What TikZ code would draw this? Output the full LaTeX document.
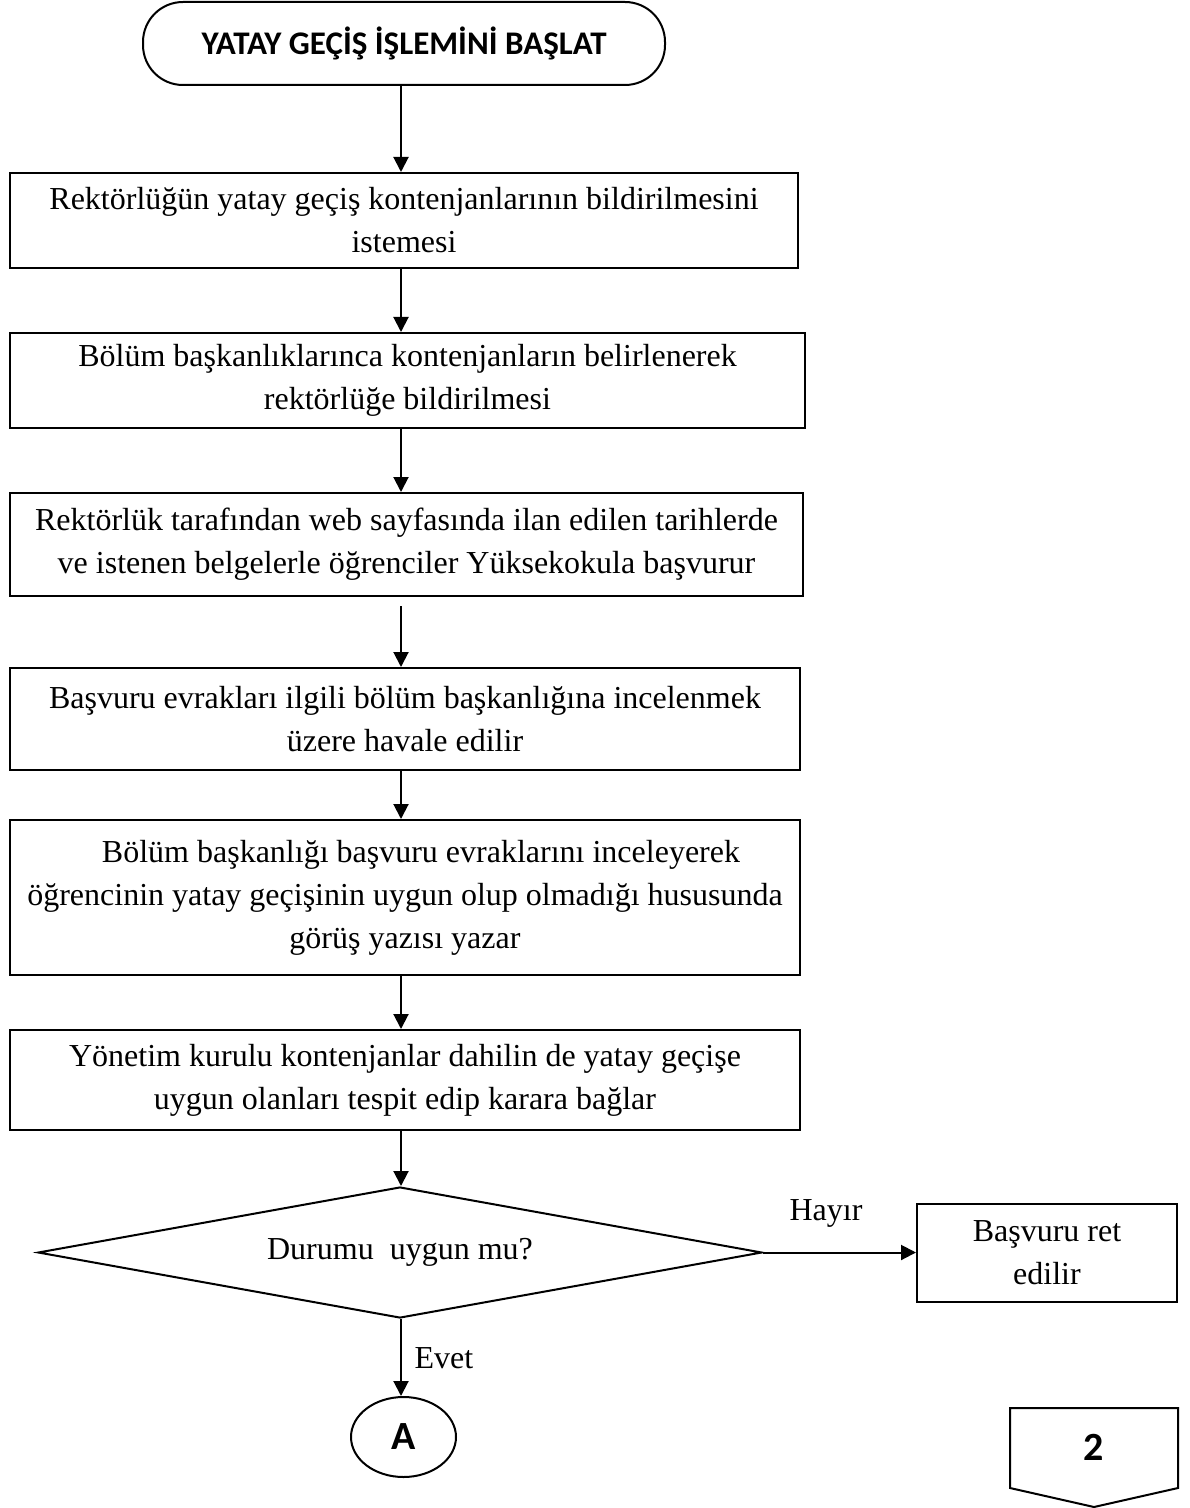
\documentclass[tikz,border=0pt]{standalone}
\usepackage{fontspec}
\setmainfont{Liberation Serif}
\newfontfamily\capfont{Carlito}
\usetikzlibrary{arrows.meta,shapes.geometric}

\begin{document}
\begin{tikzpicture}[x=0.5pt,y=-0.5pt,
  line width=1pt,
  body/.style={font=\fontsize{16}{21.5}\selectfont},
  proc/.style={draw, rectangle, inner sep=0pt, align=center, body},
  terminal/.style={draw, rectangle, rounded corners=20pt, inner sep=0pt,
    font=\capfont\bfseries\fontsize{16.5}{19}\selectfont},
  decision/.style={draw, diamond, inner sep=0pt, aspect=5.5, body},
  connector/.style={draw, ellipse, inner sep=0pt,
    font=\capfont\bfseries\fontsize{20}{22}\selectfont},
  flow/.style={-{Triangle[length=7.5pt,width=7.5pt]}},
  lbl/.style={body}
]
\useasboundingbox (0,0) rectangle (1189,1508);

% column of the main flow
\coordinate (col) at (401,0);

\node[terminal, minimum width=261pt, minimum height=41.5pt] (start) at (404,43.5)
  {YATAY GEÇİŞ İŞLEMİNİ BAŞLAT};

\node[proc, minimum width=394pt, minimum height=47.5pt] (b1) at (404,220.5)
  {Rektörlüğün yatay geçiş kontenjanlarının bildirilmesini\\istemesi};

\node[proc, minimum width=397.5pt, minimum height=47.5pt] (b2) at (407.5,380.5)
  {Bölüm başkanlıklarınca kontenjanların belirlenerek\\rektörlüğe bildirilmesi};

\node[proc, minimum width=396.5pt, minimum height=51.5pt] (b3) at (406.5,544.5)
  {Rektörlük tarafından web sayfasında ilan edilen tarihlerde\\ve istenen belgelerle öğrenciler Yüksekokula başvurur};

\node[proc, minimum width=395pt, minimum height=51pt] (b4) at (405,719)
  {Başvuru evrakları ilgili bölüm başkanlığına incelenmek\\üzere havale edilir};

\node[proc, minimum width=395pt, minimum height=77.5pt] (b5) at (405,897.5)
  {\hspace*{1em}Bölüm başkanlığı başvuru evraklarını inceleyerek\\öğrencinin yatay geçişinin uygun olup olmadığı hususunda\\görüş yazısı yazar};

\node[proc, minimum width=395pt, minimum height=50pt] (b6) at (405,1080)
  {Yönetim kurulu kontenjanlar dahilin de yatay geçişe\\uygun olanları tespit edip karara bağlar};

\node[decision, minimum width=362pt, minimum height=65.5pt] (dia) at (400,1252.5)
  {Durumu\ \ uygun mu?};

\node[proc, minimum width=130pt, minimum height=49pt] (ret) at (1047,1253)
  {Başvuru ret\\edilir};

\node[connector, minimum width=52.5pt, minimum height=40pt] (A) at (403.5,1437) {A};

% off-page connector
\draw (1010,1408) -- (1178,1408) -- (1178,1488) -- (1094,1507) -- (1010,1488) -- cycle;
\node[font=\capfont\bfseries\fontsize{20}{22}\selectfont] (pg) at (1094,1447) {2};

% connectors
\draw[flow] (start.south -| col) -- (b1.north -| col);
\draw[flow] (b1.south -| col) -- (b2.north -| col);
\draw[flow] (b2.south -| col) -- (b3.north -| col);
\draw[flow, shorten <=4.5pt] (b3.south -| col) -- (b4.north -| col);
\draw[flow] (b4.south -| col) -- (b5.north -| col);
\draw[flow] (b5.south -| col) -- (b6.north -| col);
\draw[flow] (b6.south -| col) -- (dia.north -| col);
\draw[flow] (dia.east) -- (dia.east -| ret.west);
\draw[flow] (dia.south -| col) -- (A.north -| col);

\node[lbl] (hayir) at (826,1213) {Hayır};
\node[lbl] (evet) at (444,1358) {Evet};
\end{tikzpicture}
\end{document}
